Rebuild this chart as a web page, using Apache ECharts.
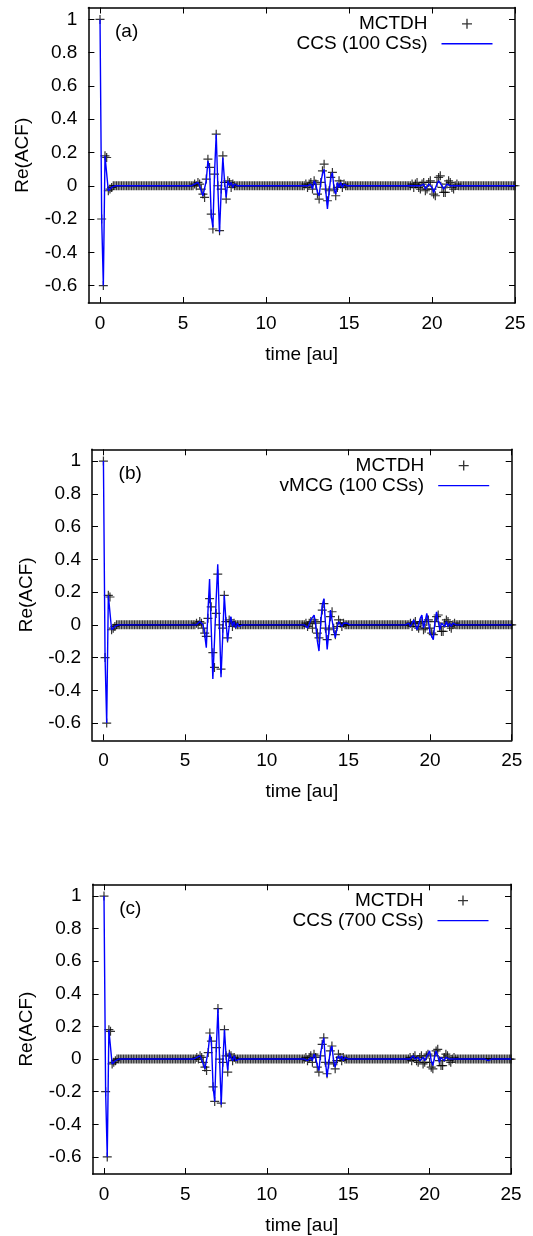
<!DOCTYPE html>
<html><head><meta charset="utf-8">
<script src="https://cdn.jsdelivr.net/npm/echarts@6/dist/echarts.min.js"></script>
<style>html,body{margin:0;padding:0;background:#fff}#c{width:533px;height:1236px}</style>
</head><body><div id="c"></div>
<script>
// time grid [au]
const time = [
0,0.1,0.2,0.3,0.4,0.5,0.6,0.7,0.8,0.9,
1,1.1,1.2,1.3,1.4,1.5,1.6,1.7,1.8,1.9,
2,2.1,2.2,2.3,2.4,2.5,2.6,2.7,2.8,2.9,
3,3.1,3.2,3.3,3.4,3.5,3.6,3.7,3.8,3.9,
4,4.1,4.2,4.3,4.4,4.5,4.6,4.7,4.8,4.9,
5,5.1,5.2,5.3,5.4,5.5,5.6,5.7,5.8,5.9,
6,6.1,6.2,6.3,6.4,6.5,6.6,6.7,6.8,6.9,
7,7.1,7.2,7.3,7.4,7.5,7.6,7.7,7.8,7.9,
8,8.1,8.2,8.3,8.4,8.5,8.6,8.7,8.8,8.9,
9,9.1,9.2,9.3,9.4,9.5,9.6,9.7,9.8,9.9,
10,10.1,10.2,10.3,10.4,10.5,10.6,10.7,10.8,10.9,
11,11.1,11.2,11.3,11.4,11.5,11.6,11.7,11.8,11.9,
12,12.1,12.2,12.3,12.4,12.5,12.6,12.7,12.8,12.9,
13,13.1,13.2,13.3,13.4,13.5,13.6,13.7,13.8,13.9,
14,14.1,14.2,14.3,14.4,14.5,14.6,14.7,14.8,14.9,
15,15.1,15.2,15.3,15.4,15.5,15.6,15.7,15.8,15.9,
16,16.1,16.2,16.3,16.4,16.5,16.6,16.7,16.8,16.9,
17,17.1,17.2,17.3,17.4,17.5,17.6,17.7,17.8,17.9,
18,18.1,18.2,18.3,18.4,18.5,18.6,18.7,18.8,18.9,
19,19.1,19.2,19.3,19.4,19.5,19.6,19.7,19.8,19.9,
20,20.1,20.2,20.3,20.4,20.5,20.6,20.7,20.8,20.9,
21,21.1,21.2,21.3,21.4,21.5,21.6,21.7,21.8,21.9,
22,22.1,22.2,22.3,22.4,22.5,22.6,22.7,22.8,22.9,
23,23.1,23.2,23.3,23.4,23.5,23.6,23.7,23.8,23.9,
24,24.1,24.2,24.3,24.4,24.5,24.6,24.7,24.8,24.9,
25];

// MCTDH reference Re(ACF)
const mctdh = [
1,-0.2,-0.6,0.18,0.17,-0.03,-0.02,-0.01,0,0,
0,0,0,0,0,0,0,0,0,0,
0,0,0,0,0,0,0,0,0,0,
0,0,0,0,0,0,0,0,0,0,
0,0,0,0,0,0,0,0,0,0,
0,0,0,0,0,0,0,0.01,0,0.02,
0.01,-0.02,-0.05,-0.07,0.04,0.16,0.11,-0.17,-0.26,0.07,
0.31,0,-0.27,-0.02,0.18,0.02,-0.08,0.03,0.02,-0.01,
0.01,0,0,0,0,0,0,0,0,0,
0,0,0,0,0,0,0,0,0,0,
0,0,0,0,0,0,0,0,0,0,
0,0,0,0,0,0,0,0,0,0,
0,0,0,0,0.01,-0.01,0.01,0.02,-0.02,0.03,
0.01,-0.05,-0.08,0.02,0.09,0.13,-0.02,-0.09,-0.03,0.05,
0.08,-0.02,-0.06,-0.01,0.03,0.01,-0.01,0.01,0,0,
0,0,0,0,0,0,0,0,0,0,
0,0,0,0,0,0,0,0,0,0,
0,0,0,0,0,0,0,0,0,0,
0,0,0,0,0,0,0,0,0.01,-0.01,
0.01,0.02,-0.01,-0.02,0.01,0.02,-0.03,-0.02,0.02,0.03,
-0.02,-0.05,-0.06,0.02,0.05,0.06,-0.01,-0.04,-0.04,0.01,
0.03,0.02,-0.01,-0.02,0,0.01,0,0,0,0,
0,0,0,0,0,0,0,0,0,0,
0,0,0,0,0,0,0,0,0,0,
0,0,0,0,0,0,0,0,0,0,
0];

// (a) CCS, 100 coherent states
const ccs100 = [
1,-0.2,-0.6,0.18,0.17,-0.03,-0.02,-0.01,0,0,
0,0,0,0,0,0,0,0,0,0,
0,0,0,0,0,0,0,0,0,0,
0,0,0,0,0,0,0,0,0,0,
0,0,0,0,0,0,0,0,0,0,
0,0,0,0,0,0,0,0.01,0,0.02,
0,-0.03,-0.06,-0.07,0.03,0.15,0.1,-0.18,-0.25,0.08,
0.31,-0.01,-0.28,-0.03,0.17,0.03,-0.07,0.03,0,0.02,
-0.01,0.01,0,0,0,0,0,0,0,0,
0,0,0,0,0,0,0,0,0,0,
0,0,0,0,0,0,0,0,0,0,
0,0,0,0,0,0,0,0,0,0,
0,0,0,0,0,0,0,0.01,-0.02,0.03,
0.01,-0.04,-0.06,0.02,0.07,0.1,-0.03,-0.14,-0.04,0.05,
0.08,-0.02,-0.05,0.02,-0.01,0.02,-0.01,0.01,0,0,
0,0,0,0,0,0,0,0,0,0,
0,0,0,0,0,0,0,0,0,0,
0,0,0,0,0,0,0,0,0,0,
0,0,0,0,0,0,0,0,0,0,
0,0,0,0,0,0.01,-0.02,-0.01,0.01,0.02,
-0.01,-0.04,-0.05,0.01,0.03,0.04,0,-0.02,-0.01,0.01,
0.01,0,0,0,0,0,0,0,0,0,
0,0,0,0,0,0,0,0,0,0,
0,0,0,0,0,0,0,0,0,0,
0,0,0,0,0,0,0,0,0,0,
0];

// (b) vMCG, 100 coherent states
const vmcg100 = [
1,-0.2,-0.6,0.18,0.17,-0.03,-0.02,-0.01,0,0,
0,0,0,0,0,0,0,0,0,0,
0,0,0,0,0,0,0,0,0,0,
0,0,0,0,0,0,0,0,0,0,
0,0,0,0,0,0,0,0,0,0,
0,0,0,0,0,0,0,0,0.01,0.02,
0.03,0,-0.06,-0.14,0.08,0.28,-0.02,-0.33,-0.1,0.15,
0.37,0.02,-0.32,-0.08,0.18,0.03,-0.1,-0.01,0.05,-0.01,
0.02,-0.02,0.01,-0.01,0,0,0,0,0,0,
0,0,0,0,0,0,0,0,0,0,
0,0,0,0,0,0,0,0,0,0,
0,0,0,0,0,0,0,0,0,0,
0,0,0,0,0,-0.02,-0.01,0.03,0.02,0.06,
0,-0.1,-0.16,0,0.12,0.16,0,-0.15,-0.05,0.09,
0.09,-0.03,-0.08,-0.02,0.02,0.03,-0.01,0.01,0,0.01,
0,0,0,0,0,0,0,0,0,0,
0,0,0,0,0,0,0,0,0,0,
0,0,0,0,0,0,0,0,0,0,
0,0,0,0,0,0,0,0.01,-0.01,0.01,
0.03,0,-0.03,0,0.04,0.06,-0.02,0.02,0.07,0.02,
-0.05,-0.06,-0.09,0.02,0.08,0.02,-0.03,0.01,0.02,-0.01,
0.02,-0.01,0.01,-0.01,0.01,0,0,0,0,0,
0,0,0,0,0,0,0,0,0,0,
0,0,0,0,0,0,0,0,0,0,
0,0,0,0,0,0,0,0,0,0,
0];

// (c) CCS, 700 coherent states
const ccs700 = [
1,-0.2,-0.6,0.18,0.17,-0.03,-0.02,-0.01,0,0,
0,0,0,0,0,0,0,0,0,0,
0,0,0,0,0,0,0,0,0,0,
0,0,0,0,0,0,0,0,0,0,
0,0,0,0,0,0,0,0,0,0,
0,0,0,0,0,0,0,0.01,0.01,0.02,
0.01,-0.03,-0.06,-0.05,0.05,0.15,0.1,-0.17,-0.26,0.07,
0.31,0,-0.28,-0.02,0.18,0.02,-0.07,0.04,0.01,-0.01,
0.02,-0.01,0,0,0,0,0,0,0,0,
0,0,0,0,0,0,0,0,0,0,
0,0,0,0,0,0,0,0,0,0,
0,0,0,0,0,0,0,0,0,0,
0,0,0,0,0,-0.01,0,0.01,-0.01,0.03,
0.01,-0.04,-0.07,0.03,0.09,0.13,-0.01,-0.11,-0.03,0.05,
0.08,-0.01,-0.05,0,0.02,0,0.02,-0.01,0.01,0,
0,0,0,0,0,0,0,0,0,0,
0,0,0,0,0,0,0,0,0,0,
0,0,0,0,0,0,0,0,0,0,
0,0,0,0,0,0,0,0,0,0.01,
0.02,0,-0.01,0.01,-0.01,0,0.01,-0.01,-0.02,0.03,
0.05,-0.01,-0.04,0.01,0.05,0.02,-0.02,0.01,0.02,-0.01,
0.01,0,0,0,0,0,0,0,0,0,
0,0,0,0,0,0,0,0,0,0,
0,0,0,0,0,0.01,-0.01,0,0,0,
0,0,0,0,0,0,0,0,0,0,
0];

const xTicks = [0,5,10,15,20,25];
const yTicks = [-0.6,-0.4,-0.2,0,0.2,0.4,0.6,0.8,1];
const panelLabels = ['(a)','(b)','(c)'];
const refName = 'MCTDH';
const curveNames = ['CCS (100 CSs)','vMCG (100 CSs)','CCS (700 CSs)'];
const curves = [ccs100, vmcg100, ccs700];

const W = 533;
const FONT = '"Liberation Sans", Arial, sans-serif';
const FS = 19;
const BLUE = '#0000ff';
const PLUS = 'path://M3.9,0H5.1V3.9H9V5.1H5.1V9H3.9V5.1H0V3.9H3.9Z';
const LINE_ICON = 'path://M0,0H51V1.4H0Z';
const grids = [
  {left:88.4, top:7.5, right:W-515, height:295.5},
  {left:92, top:449.3, right:W-511.7, height:291},
  {left:92.6, top:884.3, right:W-511, height:290.5}
];
const txt = {color:'#000', fontSize:FS, fontFamily:FONT};

const xAxes = [], yAxes = [], series = [], legends = [], graphics = [];
grids.forEach((g, p) => {
  [true, false].forEach(primary => {
    xAxes.push({
      type:'value', gridIndex:p, min:-0.7, max:25, position: primary ? 'bottom' : 'top',
      axisLine:{show:true, onZero:false, lineStyle:{color:'#000', width:1.5}},
      axisTick:{show:true, inside:true, length:6, customValues:xTicks, lineStyle:{color:'#000', width:1}},
      axisLabel:{show:primary, customValues:xTicks, margin:11, ...txt},
      splitLine:{show:false},
      name: primary ? 'time [au]' : '', nameLocation:'middle', nameGap:42, nameTextStyle:txt
    });
    yAxes.push({
      type:'value', gridIndex:p, min:-0.705, max:1.072, position: primary ? 'left' : 'right',
      axisLine:{show:true, onZero:false, lineStyle:{color:'#000', width:1.5}},
      axisTick:{show:true, inside:true, length:6, customValues:yTicks, lineStyle:{color:'#000', width:1}},
      axisLabel:{show:primary, customValues:yTicks, margin:11, ...txt,
        formatter: v => String(parseFloat(Number(v).toFixed(2)))},
      splitLine:{show:false},
      name: primary ? 'Re(ACF)' : '', nameLocation:'middle', nameRotate:90, nameGap:56, nameTextStyle:txt
    });
  });
  series.push({
    type:'scatter', name:refName, xAxisIndex:2*p, yAxisIndex:2*p,
    data: time.map((t, i) => [t, mctdh[i]]),
    symbol:PLUS, symbolSize:9, itemStyle:{color:'#000'}, z:2, silent:true
  });
  series.push({
    type:'line', name:curveNames[p], xAxisIndex:2*p, yAxisIndex:2*p,
    data: time.map((t, i) => [t, curves[p][i]]),
    showSymbol:false, symbol:'none', lineStyle:{color:BLUE, width:1.4}, itemStyle:{color:BLUE},
    z:3, silent:true
  });
  const rightEdge = W - g.right;
  legends.push({
    orient:'vertical', align:'right', right: W - (rightEdge - 22.5), top: g.top + 6.3,
    itemWidth:51, itemHeight:10, itemGap:0, padding:0, selectedMode:false,
    textStyle:{...txt, lineHeight:20, padding:[0,9,0,0]},
    data:[{name:refName, icon:PLUS}, {name:curveNames[p], icon:LINE_ICON, itemStyle:{color:BLUE}}]
  });
  graphics.push({
    type:'text', left: g.left + 26.6, top: g.top + 15,
    style:{text: panelLabels[p], fill:'#000', font: FS + 'px ' + FONT}
  });
});

const chart = echarts.init(document.getElementById('c'), null, {renderer:'canvas'});
chart.setOption({
  animation:false,
  backgroundColor:'#fff',
  grid: grids.map(g => ({left:g.left, top:g.top, right:g.right, height:g.height, containLabel:false})),
  xAxis: xAxes, yAxis: yAxes, series, legend: legends, graphic: graphics
});
</script></body></html>
